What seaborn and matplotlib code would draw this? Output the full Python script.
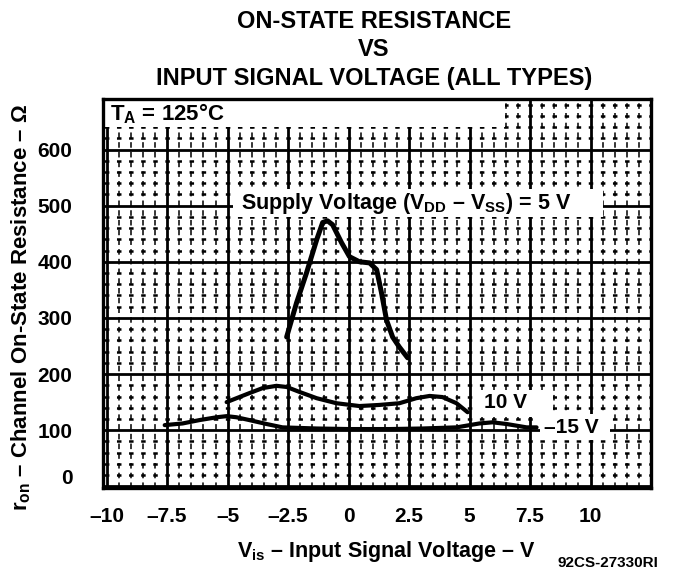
import matplotlib
matplotlib.use("Agg")
import matplotlib.pyplot as plt
import matplotlib.patches as mpatches
from matplotlib.transforms import ScaledTranslation
import numpy as np
import pandas as pd
import seaborn as sns

# ---- data ----
v5_x = [-2.56, -2.15, -1.74, -1.32, -1.07, -0.87, -0.66, -0.29, 0.04, 0.45, 0.87, 1.16, 1.36, 1.57, 1.82, 2.10, 2.44]
v5_y = [266, 327, 380, 439, 470, 473, 466, 434, 409, 400, 398, 386, 345, 296, 266, 248, 229]

v10_x = [-5.04, -4.63, -4.10, -3.55, -2.98, -2.56, -2.02, -1.32, -0.50, 0.45, 1.28, 2.10, 2.80, 3.35, 3.88, 4.46, 4.92]
v10_y = [150, 157, 166, 175, 179, 177, 168, 157, 148, 143, 145, 148, 157, 161, 159, 148, 132]

v15_x = [-7.60, -6.86, -6.16, -5.45, -5.04, -4.63, -4.10, -3.39, -2.73, -1.32, 0.04, 1.70, 3.06, 4.46, 5.41, 5.95, 6.53, 7.36, 7.77]
v15_y = [109, 112, 118, 123, 125, 123, 118, 111, 105, 103, 102, 102, 103, 105, 112, 114, 111, 105, 105]

x_ticks = [-10, -7.5, -5, -2.5, 0, 2.5, 5, 7.5, 10]
x_tick_labels = ["\u201310", "\u20137.5", "\u20135", "\u20132.5", "0", "2.5", "5", "7.5", "10"]
y_ticks = [0, 100, 200, 300, 400, 500, 600]
y_tick_labels = ["0", "100", "200", "300", "400", "500", "600"]

title_lines = ["ON-STATE RESISTANCE", "VS", "INPUT SIGNAL VOLTAGE (ALL TYPES)"]

df = pd.concat([
    pd.DataFrame({"vis": v5_x, "ron": v5_y, "supply": "5 V"}),
    pd.DataFrame({"vis": v10_x, "ron": v10_y, "supply": "10 V"}),
    pd.DataFrame({"vis": v15_x, "ron": v15_y, "supply": "15 V"}),
], ignore_index=True)

# ---- style ----
sns.set_theme(style="white")
plt.rcParams["font.family"] = ["Liberation Sans", "DejaVu Sans"]
plt.rcParams["font.weight"] = "bold"
plt.rcParams["text.color"] = "black"
plt.rcParams["axes.labelcolor"] = "black"
plt.rcParams["xtick.color"] = "black"
plt.rcParams["ytick.color"] = "black"
plt.rcParams["lines.scale_dashes"] = False
plt.rcParams["mathtext.fontset"] = "custom"
plt.rcParams["mathtext.rm"] = "Liberation Sans:bold"
plt.rcParams["mathtext.it"] = "Liberation Sans:bold"
plt.rcParams["mathtext.bf"] = "Liberation Sans:bold"

fig = plt.figure(figsize=(6.73, 5.74), dpi=100)
ax = fig.add_axes([103 / 673, 1 - 488 / 574, (651 - 103) / 673, (488 - 99) / 574])

XMIN, XMAX = -10.15, 12.5
ax.set_xlim(XMIN, XMAX)
ax.set_ylim(-3, 690)

# grid
ax.set_axisbelow(True)
ax.set_xticks(np.arange(-10, 12.51, 0.5), minor=True)
ax.set_yticks(np.arange(0, 690, 20), minor=True)
ax.set_xticks(x_ticks)
ax.set_yticks(y_ticks)
ax.grid(which="major", color="black", lw=2.0)

# vertical minor lines: broken dashes
ax.xaxis.grid(which="minor", color="black", lw=1.1, linestyle=(0, (4, 3)))
# horizontal minor lines: short dashes centred on the vertical lines -> "+" marks
px_per_pt = 100 / 72
axw_px = 548
period_px = axw_px / (XMAX - XMIN) * 0.5
period_pt = period_px / px_per_pt
dash_pt = 4.5 / px_per_pt
first_px = (-10 - XMIN) / (XMAX - XMIN) * axw_px
start_pt = first_px / px_per_pt - dash_pt / 2
offset = (-start_pt) % period_pt
ax.yaxis.grid(which="minor", color="black", lw=1.8,
              linestyle=(offset, (dash_pt, period_pt - dash_pt)))

# curves
widths = {"5 V": 3.6, "10 V": 3.0, "15 V": 3.0}
for name, lw in widths.items():
    sns.lineplot(data=df[df["supply"] == name], x="vis", y="ron", ax=ax,
                 color="black", lw=lw, sort=False, estimator=None, legend=False,
                 zorder=4)

# white label boxes
def white_box(x0, x1, y0, y1):
    ax.add_patch(mpatches.Rectangle((x0, y0), x1 - x0, y1 - y0, facecolor="white",
                                    edgecolor="none", zorder=2.5))

white_box(XMIN, 6.45, 641, 690)
white_box(-4.79, 10.5, 479, 529)
white_box(5.29, 8.43, 123, 171)
white_box(7.9, 10.8, 82, 128)

ax.text(-9.85, 664, "T$_A$ = 125\u00b0C", fontsize=16, fontweight="bold", va="center", ha="left", zorder=5)
ax.text(-4.45, 504, "Supply Voltage (V$_{DD}$ \u2013 V$_{SS}$) = 5 V", fontsize=15.5,
        fontweight="bold", va="center", ha="left", zorder=5)
ax.text(6.5, 150, "10 V", fontsize=15, fontweight="bold", va="center", ha="center", zorder=5)
ax.text(9.2, 105, "\u201315 V", fontsize=15, fontweight="bold", va="center", ha="center", zorder=5)

# ticks
ax.set_xticklabels(x_tick_labels)
ax.set_yticklabels(y_tick_labels)
ax.tick_params(axis="both", which="both", length=0, labelsize=15, labelcolor="black")
ax.tick_params(axis="x", pad=14)
ax.tick_params(axis="y", pad=22)
for lab in ax.get_xticklabels() + ax.get_yticklabels():
    lab.set_fontweight("bold")
yl = ax.get_yticklabels()
yl[0].set_transform(yl[0].get_transform() + ScaledTranslation(0, 0.10, fig.dpi_scale_trans))

ax.set_xlabel("")
ax.set_ylabel("")

for s in ax.spines.values():
    s.set_color("black")
    s.set_linewidth(2.4)

# titles and axis labels
for i, t in enumerate(title_lines):
    fig.text(374 / 673, 1 - (22 + 28 * i) / 574, t, ha="center", va="center",
             fontsize=17, fontweight="bold")

fig.text(386 / 673, 1 - 552 / 574, "V$_{is}$ \u2013 Input Signal Voltage \u2013 V",
         ha="center", va="center", fontsize=15.5, fontweight="bold")
fig.text(21 / 673, 1 - 307 / 574, "r$_{on}$ \u2013 Channel On-State Resistance \u2013 \u03a9",
         ha="center", va="center", rotation=90, fontsize=16, fontweight="bold")
fig.text(608 / 673, 1 - 563 / 574, "92CS-27330RI", ha="center", va="center",
         fontsize=11, fontweight="bold")

fig.savefig("out.png", dpi=100)
